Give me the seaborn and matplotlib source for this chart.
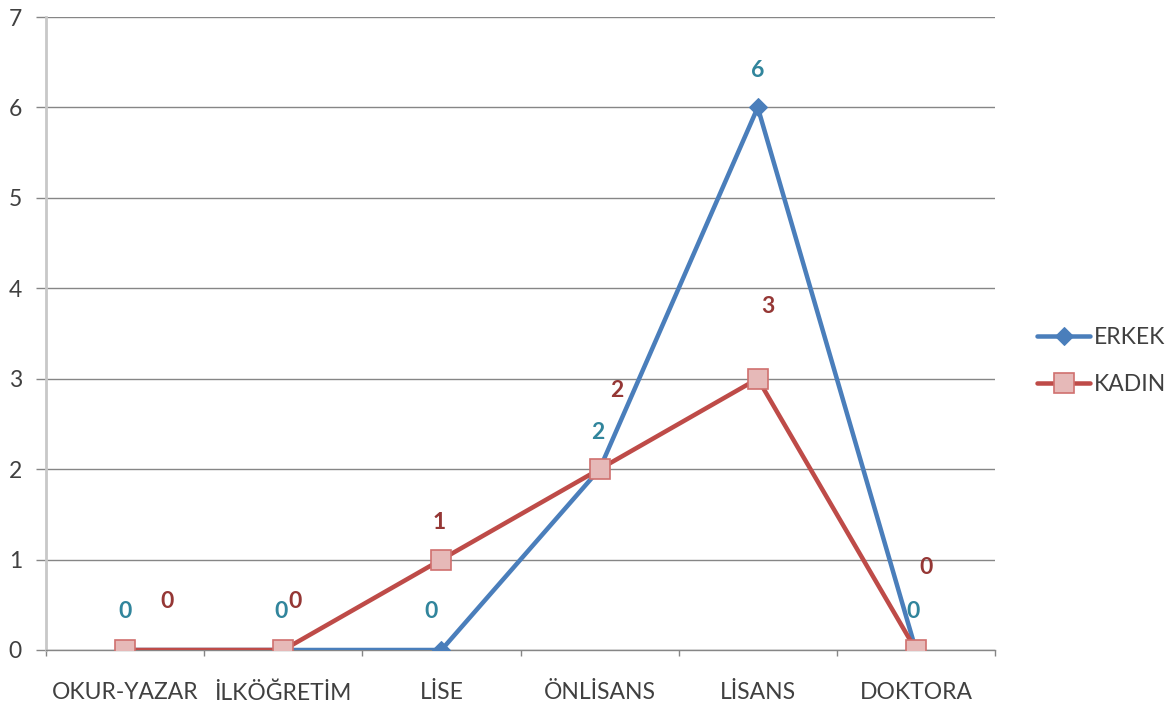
import matplotlib
matplotlib.use("Agg")
import numpy as np
import pandas as pd
import seaborn as sns
import matplotlib.pyplot as plt

# data
categories = ["OKUR-YAZAR", "İLKÖĞRETİM", "LİSE", "ÖNLİSANS", "LİSANS", "DOKTORA"]
erkek = [0, 0, 0, 2, 6, 0]
kadin = [0, 0, 1, 2, 3, 0]
series_names = ["ERKEK", "KADIN"]

# label offsets (pixels) as placed by hand in the original
erkek_label_offsets = [(0, 38), (-2, 38), (-10, 38), (-2, 37), (0, 37), (-3, 38)]
kadin_label_offsets = [(42, 48), (12, 48), (-2, 37), (17, 79), (10, 72), (10, 82)]

BLUE = "#4A7EBB"
RED = "#BE4B48"
SQUARE_FILL = "#E6B9B8"
BLUE_TXT = "#31859C"
RED_TXT = "#953735"
GRID = "#868686"
TXT = "#404040"

sns.set_style("white")
plt.rcParams["font.family"] = ["Lato", "DejaVu Sans"]

df = pd.DataFrame({
    "pos": list(range(len(categories))) * 2,
    "value": erkek + kadin,
    "series": [series_names[0]] * len(erkek) + [series_names[1]] * len(kadin),
})

fig = plt.figure(figsize=(11.75, 7.11), dpi=100)
ax = fig.add_axes([46 / 1175, 1 - 650 / 711, (995 - 46) / 1175, (650 - 17) / 711])

px = 72 / 100  # points per pixel

sns.lineplot(data=df[df.series == "ERKEK"], x="pos", y="value", ax=ax, color=BLUE,
             lw=4.5 * px, marker="D", markersize=13 * px, markeredgecolor=BLUE,
             markerfacecolor=BLUE, sort=False, label="ERKEK", zorder=3)
sns.lineplot(data=df[df.series == "KADIN"], x="pos", y="value", ax=ax, color=RED,
             lw=4.5 * px, marker="s", markersize=20 * px, markeredgecolor="#D0706E",
             markeredgewidth=1.2, markerfacecolor=SQUARE_FILL, sort=False,
             label="KADIN", zorder=4)

for vals, offs, col in [(erkek, erkek_label_offsets, BLUE_TXT),
                        (kadin, kadin_label_offsets, RED_TXT)]:
    for i, (v, (dx, dy)) in enumerate(zip(vals, offs)):
        ax.annotate(str(v), (i, v), xytext=(dx * px, dy * px), textcoords="offset points",
                    ha="center", va="center", color=col, fontsize=16.5,
                    fontweight="bold", zorder=5)

ax.set_xlim(-0.5, len(categories) - 0.5)
ax.set_ylim(0, 7)
ax.set_yticks(range(0, 8))
ax.set_xticks(range(len(categories)))
ax.set_xticklabels(categories)
ax.set_xticks(np.arange(-0.5, len(categories), 1), minor=True)
ax.set_xlabel("")
ax.set_ylabel("")

ax.yaxis.grid(True, color=GRID, lw=1)
ax.xaxis.grid(False)
ax.set_axisbelow(True)
ax.tick_params(axis="y", length=10 * px, color=GRID, width=1, pad=14 * px,
               labelsize=16.5, labelcolor=TXT, left=True)
ax.tick_params(axis="x", which="major", length=0, pad=32 * px, labelsize=16.5,
               labelcolor=TXT)
ax.tick_params(axis="x", which="minor", length=6 * px, color=GRID, width=1,
               direction="out", bottom=True)

for s in ["top", "right"]:
    ax.spines[s].set_visible(False)
ax.spines["bottom"].set_color(GRID)
ax.spines["bottom"].set_linewidth(1)
ax.spines["left"].set_color("#C8C8C8")
ax.spines["left"].set_linewidth(2)

leg = ax.legend(loc="center left", bbox_to_anchor=(1016 / 1175, 1 - 361 / 711),
                bbox_transform=fig.transFigure, frameon=False, fontsize=16.5,
                handlelength=2.35, labelspacing=1.1, handletextpad=0.15,
                labelcolor=TXT)

fig.savefig("out.png", dpi=100)
